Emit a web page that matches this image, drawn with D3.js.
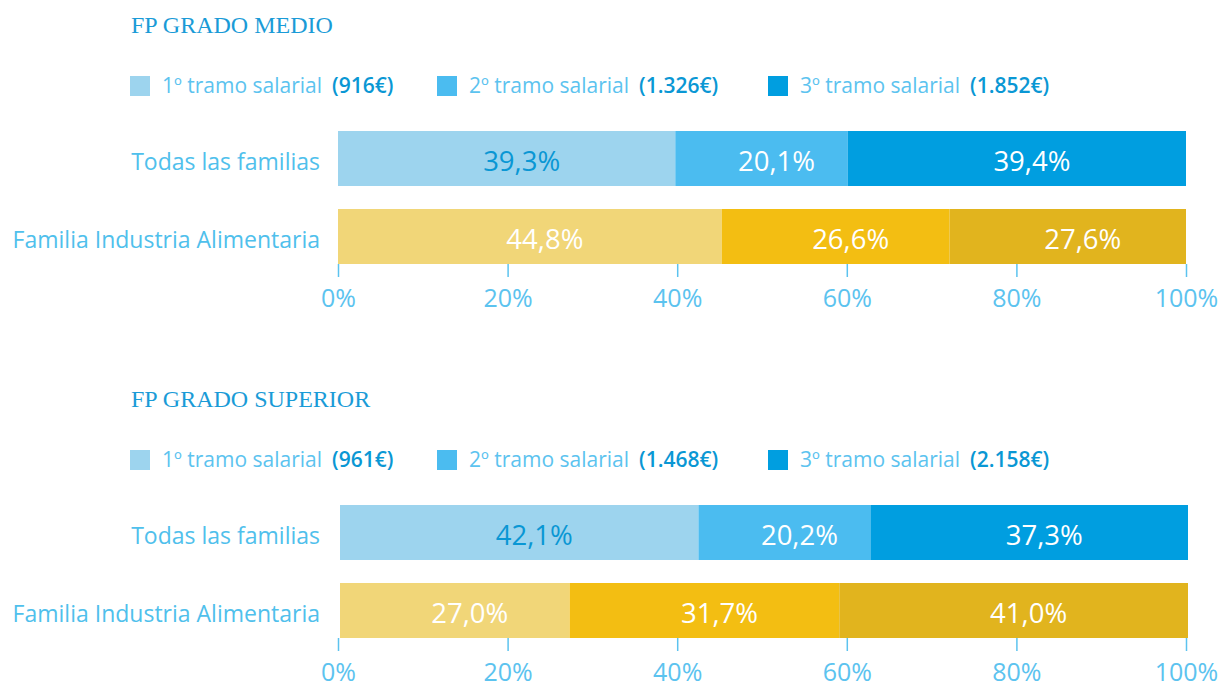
<!DOCTYPE html>
<html><head><meta charset="utf-8">
<script src="https://cdn.jsdelivr.net/npm/d3@7"></script>
<style>
body{margin:0;background:#fff;}
svg{display:block;}
</style></head><body>
<svg id="c" width="1222" height="683"></svg>
<script>
const titles = ["FP GRADO MEDIO", "FP GRADO SUPERIOR"];
const tramoLabels = ["1º tramo salarial", "2º tramo salarial", "3º tramo salarial"];
const amountsMedio = ["(916€)", "(1.326€)", "(1.852€)"];
const amountsSuperior = ["(961€)", "(1.468€)", "(2.158€)"];
const categories = ["Todas las familias", "Familia Industria Alimentaria"];
const medioTodas = [39.3, 20.1, 39.4];
const medioAlim = [44.8, 26.6, 27.6];
const superiorTodas = [42.1, 20.2, 37.3];
const superiorAlim = [27.0, 31.7, 41.0];
const tickValues = [0, 20, 40, 60, 80, 100];

const blues = ["#9dd4ee", "#4bbcf0", "#009ee0"];
const yellows = ["#f1d678", "#f3be12", "#e1b41e"];
const labelFont = "'Open Sans', 'Noto Sans', sans-serif";

const svg = d3.select("#c");

function panel(top, title, amounts, rows, barOffset) {
  const g = svg.append("g").attr("transform", `translate(0,${top})`);
  g.append("text").attr("x", 131).attr("y", 33)
    .attr("font-family", "'Liberation Serif', serif").attr("font-size", 24)
    .attr("fill", "#1a9bd7").text(title);

  const legX = [130, 437, 768];
  tramoLabels.forEach((t, i) => {
    g.append("rect").attr("x", legX[i]).attr("y", 76).attr("width", 20).attr("height", 20).attr("fill", blues[i]);
    g.append("text").attr("x", legX[i] + 32).attr("y", 93)
      .attr("font-family", labelFont).attr("font-size", 21).attr("font-weight", 400)
      .attr("fill", "#5cc3ef").text(t);
    g.append("text").attr("x", legX[i] + 202).attr("y", 93)
      .attr("font-family", labelFont).attr("font-size", 21).attr("font-weight", 600)
      .attr("fill", "#0a97d4").text(amounts[i]);
  });

  const x = d3.scaleLinear().domain([0, 100]).range([338, 1186]);
  const y = d3.scaleBand().domain(categories).range([131, 264]).paddingInner(23 / 78).paddingOuter(0);

  rows.forEach((vals, ri) => {
    const total = d3.sum(vals);
    const colors = ri === 0 ? blues : yellows;
    let cum = 0;
    const yy = y(categories[ri]);
    const cy = yy + y.bandwidth() / 2;
    vals.forEach((v, i) => {
      const x0 = x(cum / total * 100) + barOffset, x1 = x((cum + v) / total * 100) + barOffset;
      g.append("rect").attr("x", x0).attr("y", yy).attr("width", x1 - x0).attr("height", y.bandwidth()).attr("fill", colors[i]);
      g.append("text").attr("x", (x0 + x1) / 2 + 15).attr("y", cy + 12.5)
        .attr("text-anchor", "middle").attr("font-family", labelFont).attr("font-size", 27.5)
        .attr("fill", (ri === 0 && i === 0) ? "#0a97d4" : "#ffffff")
        .text(d3.format(".1f")(v).replace(".", ",") + "%");
      cum += v;
    });
    g.append("text").attr("x", 320).attr("y", cy + 11.5)
      .attr("text-anchor", "end").attr("font-family", labelFont).attr("font-weight", 400).attr("font-size", 23)
      .attr("fill", "#4fc0ec").text(categories[ri]);
  });

  const axis = d3.axisBottom(x).tickValues(tickValues).tickSize(13).tickPadding(12)
    .tickFormat(d => d + "%");
  const ax = g.append("g").attr("transform", `translate(0,${y(categories[1]) + y.bandwidth()})`).call(axis);
  ax.select(".domain").remove();
  ax.selectAll(".tick line").attr("stroke", "#5cc3ef").attr("stroke-width", 1.5);
  ax.selectAll(".tick text").attr("font-family", labelFont).attr("font-weight", 400).attr("font-size", 25).attr("fill", "#5cc3ef");
}

panel(0, titles[0], amountsMedio, [medioTodas, medioAlim], 0);
panel(374, titles[1], amountsSuperior, [superiorTodas, superiorAlim], 2);
</script>
</body></html>
